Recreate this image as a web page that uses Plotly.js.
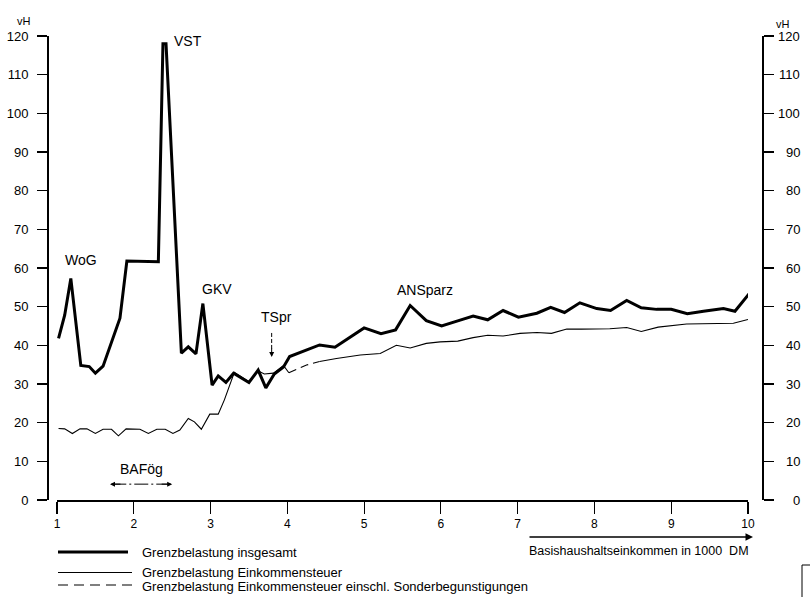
<!DOCTYPE html>
<html>
<head>
<meta charset="utf-8">
<script src="https://cdn.plot.ly/plotly-3.0.1.min.js"></script>
<style>
html,body{margin:0;padding:0;background:#fff;}
#chart{width:810px;height:597px;}
</style>
</head>
<body>
<div id="chart"></div>
<script>
// ---- data ----
const xTotal = [1.02, 1.10, 1.18, 1.31, 1.42, 1.50, 1.60, 1.82, 1.91, 2.32, 2.38, 2.42, 2.62, 2.71, 2.81, 2.90, 3.02, 3.10, 3.20, 3.30, 3.50, 3.62, 3.72, 3.83, 3.95, 4.03, 4.42, 4.62, 5.00, 5.22, 5.41, 5.60, 5.81, 6.01, 6.23, 6.42, 6.61, 6.81, 7.01, 7.25, 7.43, 7.61, 7.81, 8.03, 8.21, 8.42, 8.61, 8.81, 9.00, 9.21, 9.42, 9.68, 9.83, 10.02];
const yTotal = [41.8, 47.8, 57.3, 34.8, 34.5, 32.8, 34.6, 47.0, 61.8, 61.6, 118.0, 118.0, 38.0, 39.6, 37.8, 50.8, 29.7, 32.1, 30.4, 32.8, 30.4, 33.6, 29.0, 32.6, 34.4, 37.1, 40.1, 39.5, 44.5, 43.0, 44.0, 50.3, 46.4, 45.0, 46.4, 47.6, 46.6, 49.0, 47.3, 48.3, 49.8, 48.5, 51.0, 49.5, 49.0, 51.6, 49.7, 49.3, 49.3, 48.2, 48.8, 49.5, 48.8, 53.5];

const xTax = [1.02, 1.10, 1.20, 1.30, 1.39, 1.50, 1.60, 1.71, 1.80, 1.90, 2.08, 2.19, 2.30, 2.41, 2.51, 2.60, 2.71, 2.79, 2.88, 2.99, 3.10, 3.18, 3.31, 3.50, 3.62, 3.70, 3.82, 3.95, 4.02, null, 4.42, 4.64, 4.95, 5.21, 5.42, 5.60, 5.81, 5.99, 6.22, 6.42, 6.61, 6.81, 7.03, 7.25, 7.44, 7.64, 7.83, 8.20, 8.42, 8.61, 8.83, 9.20, 9.81, 10.00];
const yTax = [18.5, 18.4, 17.2, 18.4, 18.4, 17.2, 18.3, 18.3, 16.6, 18.4, 18.3, 17.2, 18.3, 18.3, 17.2, 18.1, 21.1, 20.2, 18.3, 22.2, 22.2, 25.9, 33.0, 30.6, 33.4, 32.6, 32.8, 34.8, 32.9, null, 35.8, 36.6, 37.5, 37.9, 40.0, 39.3, 40.5, 40.9, 41.1, 42.0, 42.6, 42.4, 43.1, 43.3, 43.1, 44.2, 44.2, 44.3, 44.6, 43.6, 44.7, 45.5, 45.7, 46.7];

const xTaxSpecial = [4.02, 4.25, 4.42];
const yTaxSpecial = [32.9, 34.9, 35.8];

const xTicks = [1, 2, 3, 4, 5, 6, 7, 8, 9, 10];
const yTicks = [0, 10, 20, 30, 40, 50, 60, 70, 80, 90, 100, 110, 120];

const seriesNames = [
  'Grenzbelastung insgesamt',
  'Grenzbelastung Einkommensteuer',
  'Grenzbelastung Einkommensteuer einschl. Sonderbegunstigungen'
];
const unitLabel = 'vH';
const xTitle = 'Basishaushaltseinkommen in 1000&nbsp; DM';

// ---- layout helpers ----
const W = 810, H = 597, ML = 47, MR = 48, MT = 36, MB = 97;
const PW = W - ML - MR, PH = H - MT - MB;
const px = p => (p - ML) / PW;            // page pixel x -> paper x
const py = p => (H - MB - p) / PH;        // page pixel y -> paper y
const FONT = 'Liberation Sans, Arial, sans-serif';
const BLACK = '#000';

const traces = [
  {x: xTax, y: yTax, mode: 'lines', line: {color: BLACK, width: 1.1}, connectgaps: false, hoverinfo: 'skip', showlegend: false},
  {x: xTaxSpecial, y: yTaxSpecial, mode: 'lines', line: {color: BLACK, width: 1.1, dash: '8px,5px'}, hoverinfo: 'skip', showlegend: false},
  {x: xTotal, y: yTotal, mode: 'lines', line: {color: BLACK, width: 3}, hoverinfo: 'skip', showlegend: false},
  {x: xTotal, y: yTotal, yaxis: 'y2', mode: 'lines', line: {color: 'rgba(0,0,0,0)', width: 0}, hoverinfo: 'skip', showlegend: false}
];

const annotations = [];
// unit labels
annotations.push({xref: 'paper', yref: 'paper', x: px(15), y: py(12.5), text: unitLabel, showarrow: false, font: {family: FONT, size: 11, color: BLACK}});
annotations.push({xref: 'paper', yref: 'paper', x: px(792), y: py(16), text: unitLabel, showarrow: false, font: {family: FONT, size: 11, color: BLACK}});
// right axis tick labels (right aligned)
yTicks.forEach(v => annotations.push({xref: 'paper', yref: 'y2', x: px(802), y: v, xanchor: 'right', text: String(v), showarrow: false, font: {family: FONT, size: 13, color: BLACK}}));
// curve labels
const lab = (t, x, y) => annotations.push({xref: 'x', yref: 'y', x: x, y: y, xanchor: 'left', yanchor: 'middle', text: t, showarrow: false, font: {family: FONT, size: 14, color: BLACK}});
lab('VST', 2.50, 118.7);
lab('WoG', 1.075, 62.1);
lab('GKV', 2.86, 54.6);
lab('TSpr', 3.63, 47.2);
lab('ANSparz', 5.40, 54.2);
lab('BAFög', 1.79, 8.0);
// arrowheads
annotations.push({xref: 'x', yref: 'y', x: 3.796, y: 37.0, ax: 0, ay: -10, text: '', showarrow: true, arrowhead: 2, arrowsize: 1, arrowwidth: 1, arrowcolor: BLACK, standoff: 0});
annotations.push({xref: 'x', yref: 'y', x: 1.69, y: 4.1, ax: 12, ay: 0, text: '', showarrow: true, arrowhead: 2, arrowsize: 1, arrowwidth: 1, arrowcolor: BLACK, standoff: 0});
annotations.push({xref: 'x', yref: 'y', x: 2.50, y: 4.1, ax: -12, ay: 0, text: '', showarrow: true, arrowhead: 2, arrowsize: 1, arrowwidth: 1, arrowcolor: BLACK, standoff: 0});
// x-axis title arrow + text
annotations.push({xref: 'paper', yref: 'paper', x: px(753), y: py(537), ax: -(753 - 528), ay: 0, text: '', showarrow: true, arrowhead: 2, arrowsize: 1, arrowwidth: 1.5, arrowcolor: BLACK, standoff: 0});
annotations.push({xref: 'paper', yref: 'paper', x: px(751), y: py(551), xanchor: 'right', yanchor: 'middle', text: xTitle, showarrow: false, font: {family: FONT, size: 12.5, color: BLACK}});
// legend texts
const legY = [552, 572.5, 586];
seriesNames.forEach((n, i) => annotations.push({xref: 'paper', yref: 'paper', x: px(140), y: py(legY[i]), xanchor: 'left', yanchor: 'middle', text: n, showarrow: false, font: {family: FONT, size: 13, color: BLACK}}));

const shapes = [
  // TSpr dashed arrow shaft
  {type: 'line', xref: 'x', yref: 'y', x0: 3.796, x1: 3.796, y0: 43.2, y1: 38.5, line: {color: BLACK, width: 1, dash: '4px,2px'}},
  // BAFög dash-dot span
  {type: 'line', xref: 'x', yref: 'y', x0: 1.72, x1: 2.47, y0: 4.1, y1: 4.1, line: {color: BLACK, width: 1, dash: '14px,3px,2px,3px'}},
  // legend lines
  {type: 'line', xref: 'paper', yref: 'paper', x0: px(58), x1: px(128), y0: py(legY[0]), y1: py(legY[0]), line: {color: BLACK, width: 3}},
  {type: 'line', xref: 'paper', yref: 'paper', x0: px(58), x1: px(132), y0: py(legY[1]), y1: py(legY[1]), line: {color: BLACK, width: 1.1}},
  {type: 'line', xref: 'paper', yref: 'paper', x0: px(58), x1: px(132), y0: py(legY[2] - 1), y1: py(legY[2] - 1), line: {color: BLACK, width: 1.1, dash: '10px,6px'}},
  // partial box at lower right edge
  {type: 'rect', xref: 'paper', yref: 'paper', x0: px(802), x1: px(830), y0: py(565), y1: py(620), line: {color: BLACK, width: 1}}
];

const layout = {
  width: W, height: H,
  margin: {l: ML, r: MR, t: MT, b: MB, pad: 0},
  paper_bgcolor: '#fff', plot_bgcolor: '#fff',
  showlegend: false,
  font: {family: FONT, color: BLACK},
  xaxis: {
    domain: [px(57), px(748)],
    range: [xTicks[0], xTicks[xTicks.length - 1]],
    tickvals: xTicks, ticktext: xTicks.map(String),
    showline: true, linecolor: BLACK, linewidth: 1.6,
    ticks: 'outside', ticklen: 12, tickwidth: 1.2, tickcolor: BLACK,
    tickfont: {family: FONT, size: 12, color: BLACK},
    showgrid: false, zeroline: false, anchor: 'y'
  },
  yaxis: {
    range: [yTicks[0], yTicks[yTicks.length - 1]],
    tickvals: yTicks,
    anchor: 'free', position: 0, side: 'left',
    showline: true, linecolor: BLACK, linewidth: 1.6,
    ticks: 'outside', ticklen: 10, tickwidth: 1.3, tickcolor: BLACK,
    tickfont: {family: FONT, size: 13, color: BLACK},
    ticklabelstandoff: 6,
    showgrid: false, zeroline: false
  },
  yaxis2: {
    range: [yTicks[0], yTicks[yTicks.length - 1]],
    tickvals: yTicks, showticklabels: false,
    overlaying: 'y', anchor: 'free', position: 1, side: 'right',
    showline: true, linecolor: BLACK, linewidth: 1.6,
    ticks: 'outside', ticklen: 10, tickwidth: 1.3, tickcolor: BLACK,
    showgrid: false, zeroline: false
  },
  annotations: annotations,
  shapes: shapes
};

Plotly.newPlot('chart', traces, layout, {displayModeBar: false, staticPlot: true});
</script>
</body>
</html>
